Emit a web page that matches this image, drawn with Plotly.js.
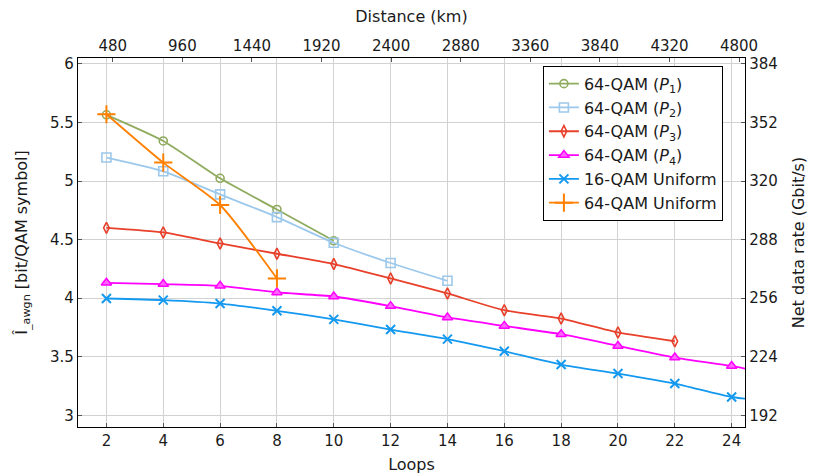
<!DOCTYPE html>
<html>
<head>
<meta charset="utf-8">
<script src="https://cdn.plot.ly/plotly-3.0.1.min.js"></script>
<style>html,body{margin:0;padding:0;background:#fff;}#chart{width:815px;height:476px;}</style>
</head>
<body>
<div id="chart"></div>
<script>
// Loops (x positions)
const loopsP1 = [2, 4, 6, 8, 10];
const loopsP2 = [2, 4, 6, 8, 10, 12, 14];
const loopsP3 = [2, 4, 6, 8, 10, 12, 14, 16, 18, 20, 22];
const loopsP4 = [2, 4, 6, 8, 10, 12, 14, 16, 18, 20, 22, 24, 25];
const loopsU16 = [2, 4, 6, 8, 10, 12, 14, 16, 18, 20, 22, 24, 25];
const loopsU64 = [2, 4, 6, 8];

// I_awgn values [bit/QAM symbol]
const p1 = [5.565, 5.342, 5.023, 4.757, 4.49];
const p2 = [5.20, 5.083, 4.886, 4.692, 4.473, 4.30, 4.148];
const p3 = [4.600, 4.561, 4.467, 4.379, 4.291, 4.168, 4.040, 3.897, 3.826, 3.707, 3.632];
const p4 = [4.131, 4.120, 4.105, 4.049, 4.014, 3.932, 3.835, 3.763, 3.692, 3.592, 3.493, 3.421, 3.37];
const u16 = [3.997, 3.983, 3.954, 3.892, 3.819, 3.732, 3.650, 3.547, 3.433, 3.356, 3.271, 3.156, 3.13];
const u64 = [5.57, 5.157, 4.795, 4.168];

// Tick values
const loopTicks = [2, 4, 6, 8, 10, 12, 14, 16, 18, 20, 22, 24];
const yTicks = [3, 3.5, 4, 4.5, 5, 5.5, 6];
const distTicks = [480, 960, 1440, 1920, 2400, 2880, 3360, 3840, 4320, 4800];
const rateTicks = [192, 224, 256, 288, 320, 352, 384];

const FONT = "DejaVu Sans";
const TXT = "#1a1a1a";

function tr(name, x, y, color, marker) {
  return {
    type: "scatter", mode: "lines+markers", name: name, x: x, y: y,
    line: {color: color, width: 1.8, shape: "spline", smoothing: 0.6},
    marker: marker, cliponaxis: true
  };
}

const data = [
  tr("64-QAM (<i>P</i><sub>1</sub>)", loopsP1, p1, "#8fab5e",
     {symbol: "circle-open", size: 8, color: "#8fab5e", line: {width: 1.6, color: "#8fab5e"}}),
  tr("64-QAM (<i>P</i><sub>2</sub>)", loopsP2, p2, "#9cc8ec",
     {symbol: "square-open", size: 9, color: "#9cc8ec", line: {width: 1.6, color: "#9cc8ec"}}),
  tr("64-QAM (<i>P</i><sub>3</sub>)", loopsP3, p3, "#e8402a",
     {symbol: "diamond-tall-open", size: 8, color: "#e8402a", line: {width: 1.6, color: "#e8402a"}}),
  tr("64-QAM (<i>P</i><sub>4</sub>)", loopsP4, p4, "#ff00ff",
     {symbol: "triangle-up", size: 9, color: "#ff66ff", line: {width: 1.5, color: "#ff00ff"}}),
  tr("16-QAM Uniform", loopsU16, u16, "#1499f0",
     {symbol: "x-thin", size: 9, color: "#1499f0", line: {width: 2, color: "#1499f0"}}),
  tr("64-QAM Uniform", loopsU64, u64, "#ff8000",
     {symbol: "cross-thin", size: 13, color: "#ff8000", line: {width: 2, color: "#ff8000"}}),
  // carrier trace so the secondary (top / right) axes are drawn
  {type: "scatter", mode: "markers", x: [distTicks[0]], y: [rateTicks[0]], xaxis: "x2", yaxis: "y2",
   marker: {opacity: 0, size: 1}, showlegend: false, hoverinfo: "skip"}
];

const axisCommon = {
  showline: true, linecolor: "#000", linewidth: 1.2,
  ticks: "inside", ticklen: 4, tickcolor: "#555", tickwidth: 1,
  tickfont: {family: FONT, size: 15, color: TXT},
  zeroline: false
};

const layout = {
  width: 815, height: 476,
  margin: {l: 78, r: 70, t: 58, b: 49, pad: 0},
  paper_bgcolor: "#fff", plot_bgcolor: "#fff",
  font: {family: FONT, size: 16, color: TXT},
  showlegend: true,
  legend: {
    x: 0.697, y: 0.979, xanchor: "left", yanchor: "top",
    bgcolor: "#fff", bordercolor: "#000", borderwidth: 1,
    font: {family: FONT, size: 16, color: TXT},
    tracegroupgap: 0, itemwidth: 30
  },
  xaxis: Object.assign({}, axisCommon, {
    range: [1, 24.47], tickmode: "array", tickvals: loopTicks,
    showgrid: true, gridcolor: "#d2d2d2", gridwidth: 1,
    title: {text: "Loops", font: {family: FONT, size: 16, color: TXT}, standoff: 9}
  }),
  xaxis2: Object.assign({}, axisCommon, {
    overlaying: "x", side: "top", anchor: "y",
    range: [240, 4841], tickmode: "array", tickvals: distTicks,
    showgrid: false,
    title: {text: "Distance (km)", font: {family: FONT, size: 16, color: TXT}, standoff: 10}
  }),
  yaxis: Object.assign({}, axisCommon, {
    range: [2.9, 6.05], tickmode: "array", tickvals: yTicks,
    ticktext: yTicks.map(v => String(v)),
    showgrid: true, gridcolor: "#d2d2d2", gridwidth: 1,
    title: {text: "Î<sub>_awgn</sub> [bit/QAM symbol]", font: {family: FONT, size: 16, color: TXT}, standoff: 18}
  }),
  yaxis2: Object.assign({}, axisCommon, {
    overlaying: "y", side: "right", anchor: "x",
    range: [185.6, 387.2], tickmode: "array", tickvals: rateTicks,
    showgrid: false,
    title: {text: "Net data rate (Gbit/s)", font: {family: FONT, size: 16, color: TXT}, standoff: 16}
  })
};

Plotly.newPlot("chart", data, layout, {staticPlot: true, displayModeBar: false});
</script>
</body>
</html>
